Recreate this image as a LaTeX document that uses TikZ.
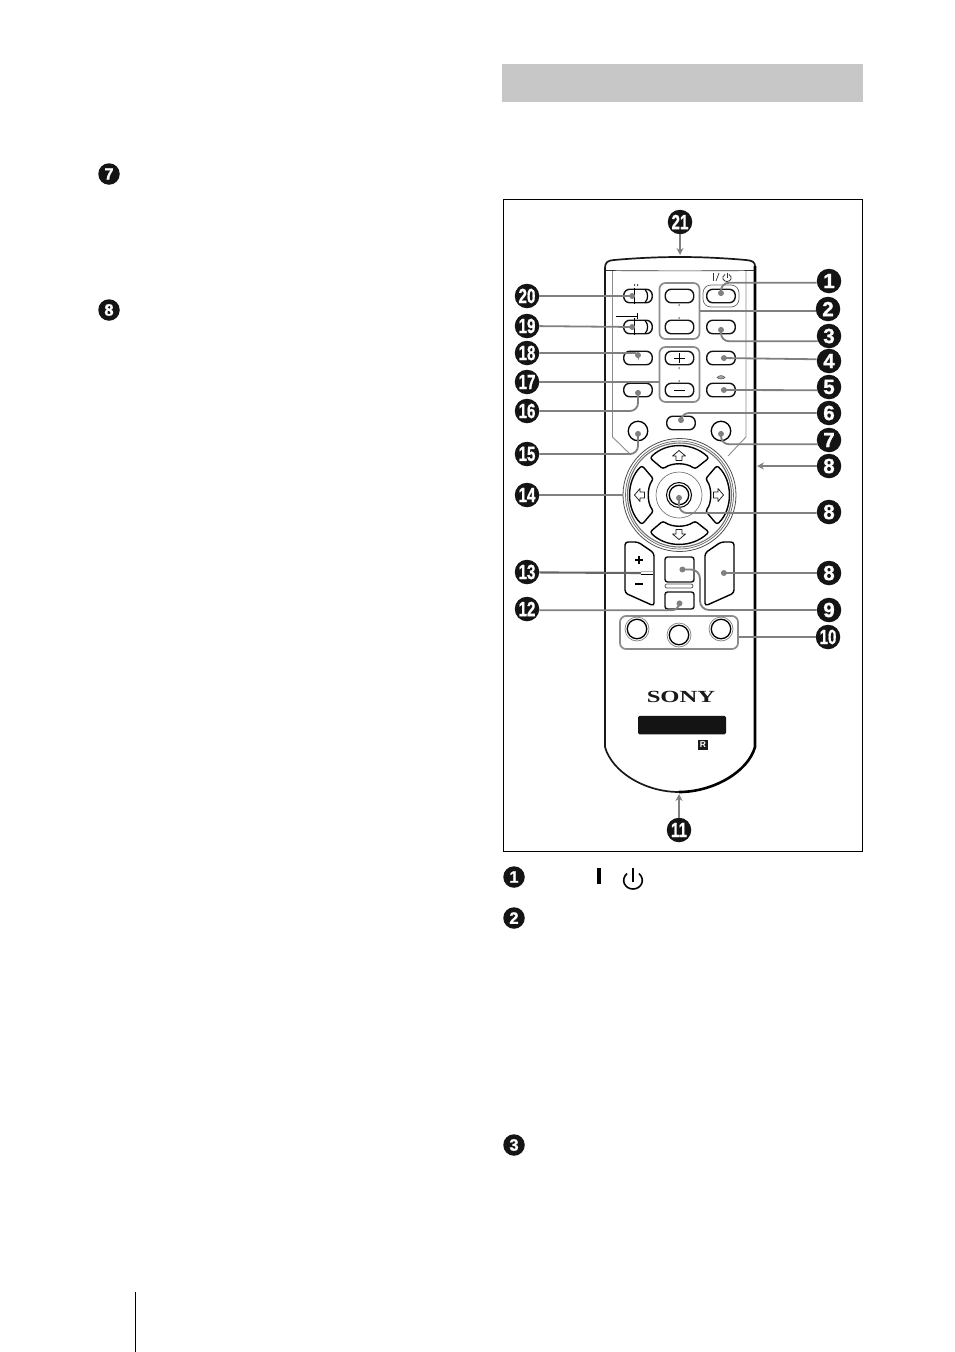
\documentclass[tikz,border=0pt]{standalone}
\usepackage{fontspec}
\setmainfont{Liberation Sans}
\newfontfamily\serifb{Liberation Serif}[BoldFont={Liberation Serif Bold}]
\newfontfamily\badgefont{Liberation Sans Bold}[FakeBold=1.2]
\usetikzlibrary{arrows.meta}
\tikzset{
  badge/.style={circle,fill=black!92,text=white,inner sep=0pt,minimum size=24.5pt,font=\badgefont\fontsize{20.5}{20.5}\selectfont},
  pagebadge/.style={circle,fill=black!92,text=white,inner sep=0pt,minimum size=21.5pt,font=\badgefont\fontsize{16.5}{16.5}\selectfont},
  keybtn/.style={draw=black!92,line width=1.4pt,rounded corners=6pt,inner sep=0pt,minimum width=28.5pt,minimum height=13.5pt,fill=white},
  groupbox/.style={draw=black!45,line width=1.7pt,rounded corners=6pt,inner sep=0pt},
  lead/.style={draw=black!50,line width=1.8pt,rounded corners=8pt,-{Circle[length=5.8pt]}},
  plainlead/.style={draw=black!50,line width=1.8pt,rounded corners=8pt},
  arrowlead/.style={draw=black!50,line width=1.8pt,-{Stealth[length=7pt,width=7pt]}},
  thinline/.style={draw=black!45,line width=.9pt},
  roundkey/.style={circle,draw=black,line width=1.3pt,inner sep=0pt,minimum size=19.5pt},
  ringkey/.style={circle,draw=black!50,line width=.7pt,inner sep=0pt,minimum size=24pt},
  glyph/.style={draw=black!90,line width=.75pt,fill=white,line join=round},
  padkey/.style={draw=black,line width=1.4pt,rounded corners=2.5pt,fill=white},
  softkey/.style={draw=black,line width=1.4pt,rounded corners=3pt,fill=white}
}
\newcommand{\twod}[1]{\scalebox{.74}[1]{#1}}
\begin{document}
\begin{tikzpicture}[x=1pt,y=-1pt]
\useasboundingbox (0,0) rectangle (954,1352);
\fill[white] (0,0) rectangle (954,1352);
% page furniture
\fill[black!22] (502,64) rectangle (863,102);
\node[draw=black,line width=1pt,inner sep=0pt,minimum width=359pt,minimum height=652pt] (frame) at (683,525) {};
\draw[black,line width=1pt] (135.5,1292) -- (135.5,1352);
\node[pagebadge] (p7) at (109,174) {7};
\node[pagebadge] (p8) at (109,310) {8};
\node[pagebadge] (t1) at (514,877) {1};
\node[pagebadge] (t2) at (514,918) {2};
\node[pagebadge] (t3) at (514,1145) {3};
\fill[black] (596.5,868) rectangle (600.7,884);
\draw[black,line width=1.6pt] (627,873.5) .. controls (620,880) and (625,889) .. (633,889) .. controls (641,889) and (646,880) .. (639,873.5);
\draw[black,line width=1.6pt] (633,868) -- (633,882);
% remote body
\draw[black!90,line width=1.7pt] (755,266) .. controls (755,262) and (752,260.5) .. (746,260) .. controls (700,256) and (660,256) .. (614,260) .. controls (608,260.5) and (605,262) .. (605,268) -- (605,747) .. controls (612,772) and (645,792) .. (679,792);
\draw[black,line width=2.6pt] (755,266) -- (755,747) .. controls (748,772) and (713,792) .. (679,792);
\draw[black!80,line width=.7pt] (606,270.5) .. controls (650,271) and (710,271) .. (754,270.5);
\draw[thinline] (612.5,271) -- (612.5,437) -- (631,455);
\draw[thinline] (746,271) -- (746,437) -- (728,456);
% upper keys
\node[draw=black!60,line width=.7pt,rounded corners=8pt,minimum width=36pt,minimum height=22pt,inner sep=0pt] (pring) at (721,296) {};
\node[keybtn] (k1) at (721,296) {};
\node[keybtn] (k2a) at (679.5,296) {};
\node[keybtn] (k2b) at (679.5,327) {};
\node[groupbox,minimum width=40pt,minimum height=56pt] (g2) at (679.5,311) {};
\node[keybtn] (k3) at (721,327) {};
\node[keybtn] (k4) at (721,358) {};
\node[keybtn] (k5) at (721,390) {};
\node[keybtn] (k6) at (681,423) {};
\node[keybtn] (k20) at (638,296) {};
\node[keybtn] (k19) at (638,327) {};
\node[keybtn] (k18) at (638,358) {};
\node[keybtn] (k16) at (638,390) {};
\node[keybtn] (kp) at (679.5,358) {};
\node[keybtn] (km) at (679.5,390) {};
\node[groupbox,minimum width=40pt,minimum height=55pt] (g17) at (679.5,374.5) {};
\draw[black,line width=1.2pt] (645,289.5) .. controls (648.5,293) and (648.5,299) .. (645,302.5);
\draw[black,line width=1.2pt] (645,320.5) .. controls (648.5,324) and (648.5,330) .. (645,333.5);
\draw[black,line width=1pt] (634.5,288) -- (634.5,304);
\draw[black,line width=1pt] (634.5,318) -- (634.5,335);
\draw[black,line width=.9pt] (637.5,313) -- (637.5,319);
\draw[black,line width=.7pt] (632,316.5) -- (637.5,316.5);
\draw[black,line width=1.4pt] (615.5,316.5) -- (633,316.5);
\fill[black!70] (634,284) rectangle (635,286) (637,284) rectangle (638,286);
\fill[black!60] (678.6,304) rectangle (679.6,306) (678.6,317) rectangle (679.6,319);
\fill[black!60] (678.6,367) rectangle (679.6,369) (678.6,380) rectangle (679.6,382);
\draw[black,line width=.8pt] (674,358) -- (685,358) (679.5,353) -- (679.5,363);
\draw[black,line width=.8pt] (674,390) -- (685,390);
\draw[black!80,line width=.8pt] (713.6,273) -- (713.6,281);
\draw[black!80,line width=.7pt] (716,281) -- (719,273);
\draw[black!80,line width=.8pt] (725,274.5) .. controls (721,277) and (723,281.5) .. (727,281.5) .. controls (731,281.5) and (733,277) .. (729,274.5);
\draw[black!80,line width=.8pt] (727,272.5) -- (727,278);
\draw[black!70,fill=black!35,line width=.5pt] (717,377.5) .. controls (719,375) and (723,375) .. (725,377.5) .. controls (723,379.5) and (719,379.5) .. (717,377.5) -- cycle;
\node[roundkey] (k15) at (638,431) {};
\node[roundkey] (k7) at (721,431) {};
% joypad
\node[circle,draw=black!70,line width=.8pt,inner sep=0pt,minimum size=113pt] (pad) at (679.5,495) {};
\node[circle,draw=black!60,line width=.7pt,inner sep=0pt,minimum size=108pt] (padb) at (679.5,495) {};
\node[circle,draw=black!55,line width=1.1pt,inner sep=0pt,minimum size=104pt] (padc) at (679.5,495) {};
\draw[padkey] (650,458) .. controls (666,442) and (692,442) .. (709,458) -- (695,469) .. controls (686,462.5) and (672,462.5) .. (663,469) -- cycle;
\draw[padkey] (650,532) .. controls (666,548) and (692,548) .. (709,532) -- (695,521) .. controls (686,527.5) and (672,527.5) .. (663,521) -- cycle;
\draw[padkey] (642,465.5) .. controls (626,481) and (626,509) .. (642,524.5) -- (653.5,511) .. controls (647,503) and (647,487) .. (653.5,479) -- cycle;
\draw[padkey] (717,465.5) .. controls (733,481) and (733,509) .. (717,524.5) -- (705.5,511) .. controls (712,503) and (712,487) .. (705.5,479) -- cycle;
\node[circle,draw=black!60,line width=.6pt,inner sep=0pt,minimum size=46pt] (padin) at (679,495) {};
\node[circle,draw=black,line width=1.3pt,inner sep=0pt,minimum size=19.5pt] (k8b) at (679,495) {};
\node[circle,draw=black,line width=1pt,inner sep=0pt,minimum size=25pt] (k8bo) at (679,495) {};
\foreach \px/\py/\ang in {679/456/0,679/534/180,640/495/90,718/495/270}{
  \begin{scope}[shift={(\px,\py)},rotate=\ang]
    \draw[glyph] (0,-5.5) -- (6.5,0) -- (3,0) -- (3,4.5) -- (-3,4.5) -- (-3,0) -- (-6.5,0) -- cycle;
  \end{scope}
}
% lower keys
\draw[softkey] (625,542) -- (638,542) -- (654,553) -- (654,606) -- (625,593) -- cycle;
\draw[softkey] (734,542) -- (721,542) -- (705,553) -- (705,606) -- (734,593) -- cycle;
\draw[black,line width=1.2pt] (635,560) -- (643,560) (639,556) -- (639,564);
\draw[black,line width=1.2pt] (635,584) -- (643,584);
\node[keybtn,rounded corners=2.5pt,minimum width=29pt,minimum height=25pt] (k9) at (679.5,569.5) {};
\node[draw=black!70,line width=.7pt,rounded corners=2pt,minimum width=28pt,minimum height=4pt,inner sep=0pt] (kdiv) at (679,586) {};
\node[keybtn,rounded corners=2.5pt,minimum width=29pt,minimum height=17pt] (k12) at (679.5,600.5) {};
\coordinate (k8c) at (721,573);
\coordinate (k13) at (641,573);
\draw[black!30,line width=1pt] (641,571.5) -- (653,571.5);
\draw[black,line width=.8pt] (641,574) -- (653,574);
\node[groupbox,minimum width=118pt,minimum height=33pt] (g10) at (679,632.5) {};
\node[ringkey] (r1) at (637,629) {};
\node[roundkey] (c1) at (637,629) {};
\node[ringkey] (r2) at (679,635) {};
\node[roundkey] (c2) at (679,635) {};
\node[ringkey] (r3) at (721,629) {};
\node[roundkey] (c3) at (721,629) {};
% brand
\node[inner sep=0pt,text=black!90] (sony) at (681,697) {\serifb\bfseries\fontsize{17}{17}\selectfont\scalebox{1.45}[1]{SONY}};
\node[fill=black!92,rounded corners=1.5pt,inner sep=0pt,minimum width=88pt,minimum height=18.5pt] (plate) at (682,725) {};
\node[fill=black!90,inner sep=0pt,minimum size=10pt,text=white,font=\bfseries\fontsize{8.5}{8.5}\selectfont] (rmark) at (703,745) {R};
% badges
\node[badge] (b1) at (829,281) {1};
\node[badge] (b2) at (828,309) {2};
\node[badge] (b3) at (829,336) {3};
\node[badge] (b4) at (829,361) {4};
\node[badge] (b5) at (829,387) {5};
\node[badge] (b6) at (829,413) {6};
\node[badge] (b7) at (829,440) {7};
\node[badge] (b8a) at (829,466) {8};
\node[badge] (b8b) at (829,512) {8};
\node[badge] (b8c) at (829,573) {8};
\node[badge] (b9) at (829,610) {9};
\node[badge] (b10) at (828,637) {\twod{10}};
\node[badge] (b11) at (679,830) {\twod{11}};
\node[badge] (b12) at (527,609) {\twod{12}};
\node[badge] (b13) at (527,572) {\twod{13}};
\node[badge] (b14) at (527,495) {\twod{14}};
\node[badge] (b15) at (527,454) {\twod{15}};
\node[badge] (b16) at (527,411) {\twod{16}};
\node[badge] (b17) at (527,382) {\twod{17}};
\node[badge] (b18) at (527,353) {\twod{18}};
\node[badge] (b19) at (527,326) {\twod{19}};
\node[badge] (b20) at (527,296) {\twod{20}};
\node[badge] (b21) at (680,222) {\twod{21}};
% connectors
\coordinate (a8) at (757,466);
\coordinate (a11) at (679,794);
\coordinate (a21) at (680,255);
\coordinate (c9) at (700,610);
\draw[lead] (b1.188) -| (k1.center);
\draw[plainlead] (b2.188) -- (g2.east |- b2.188);
\draw[lead] (b3.205) -| (k3.center);
\draw[lead] (b4.172) -- (k4.center);
\draw[lead] (b5.195) -- (k5.center);
\draw[lead] (b6) -| (k6.center);
\draw[lead] (b7.200) -| (k7.center);
\draw[arrowlead] (b8a) -- (a8);
\draw[lead] (b8b.185) -| (k8b.center);
\draw[lead] (b8c) -- (k8c);
\draw[lead,rounded corners=9pt] (b9) -- (c9) |- (k9.center);
\draw[plainlead] (b10) -- (g10.east |- b10);
\draw[arrowlead] (b11) -- (a11);
\draw[lead] (b12.354) -| (k12.center);
\draw[plainlead,draw=black!60,line width=2.1pt] (b13.358) -- (k13);
\draw[plainlead] (b14) -- (pad.west |- b14);
\draw[lead] (b15) -| (k15.center);
\draw[lead] (b16) -| (k16.center);
\draw[plainlead] (b17) -- (g17.west |- b17);
\draw[lead,rounded corners=3pt] (b18) -| (k18.center);
\draw[lead] (b19) -- (635,327);
\draw[lead] (b20) -- (635,296);
\draw[arrowlead] (b21) -- (a21);
\end{tikzpicture}
\end{document}
